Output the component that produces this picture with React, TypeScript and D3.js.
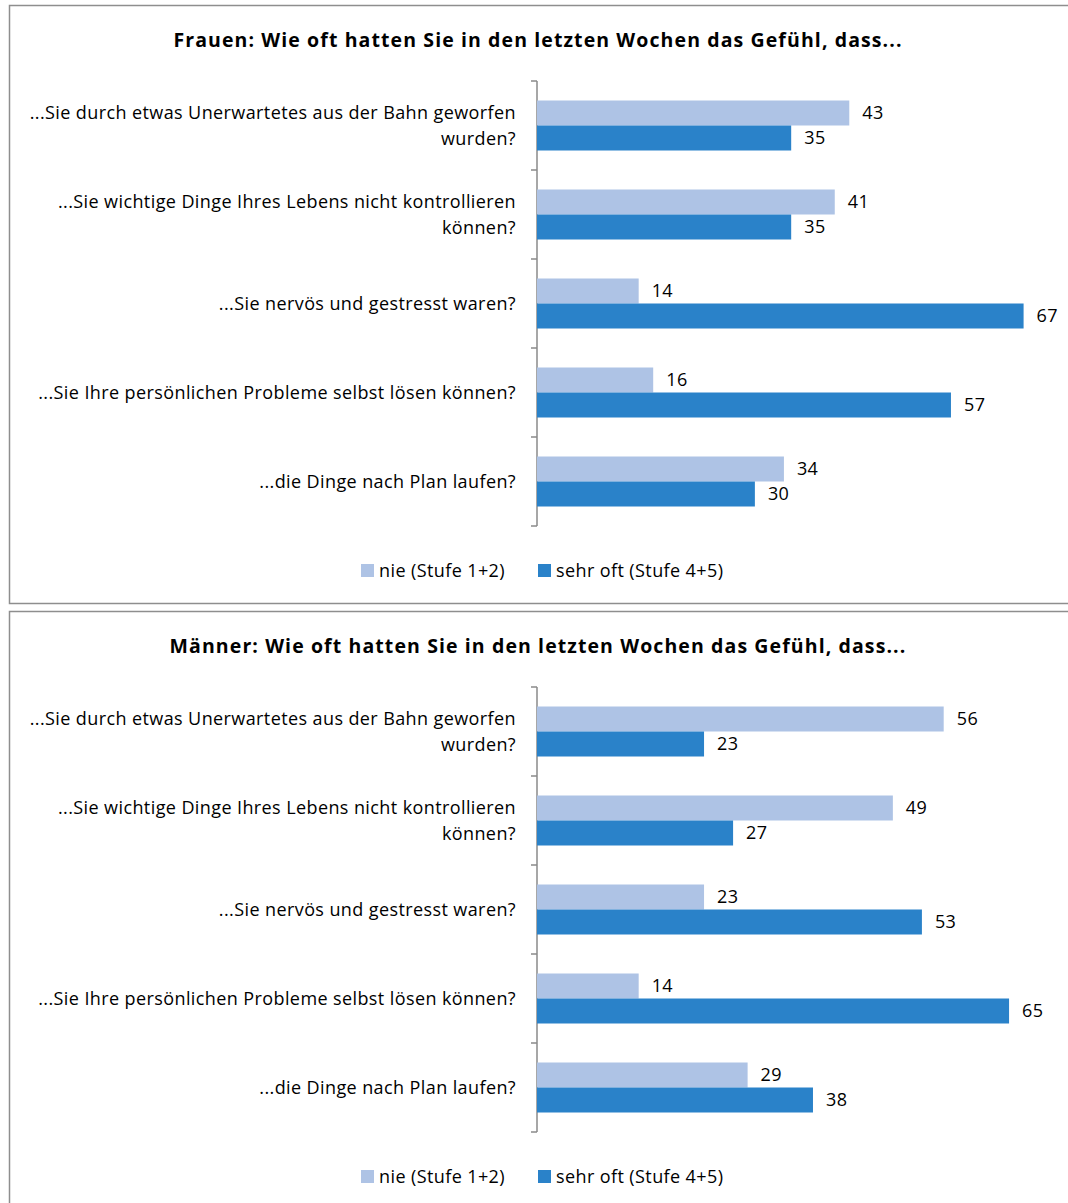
import React from "react";
import * as d3 from "d3";

const categories: string[][] = [
  ["...Sie durch etwas Unerwartetes aus der Bahn geworfen", "wurden?"],
  ["...Sie wichtige Dinge Ihres Lebens nicht kontrollieren", "können?"],
  ["...Sie nervös und gestresst waren?"],
  ["...Sie Ihre persönlichen Probleme selbst lösen können?"],
  ["...die Dinge nach Plan laufen?"],
];
const seriesNames = ["nie (Stufe 1+2)", "sehr oft (Stufe 4+5)"];
const frauenNie = [43, 41, 14, 16, 34];
const frauenOft = [35, 35, 67, 57, 30];
const maennerNie = [56, 49, 23, 14, 29];
const maennerOft = [23, 27, 53, 65, 38];
const titles = [
  "Frauen: Wie oft hatten Sie in den letzten Wochen das Gefühl, dass...",
  "Männer: Wie oft hatten Sie in den letzten Wochen das Gefühl, dass...",
];

const COLORS = ["#AEC3E5", "#2A82C9"];
const FONT = "'Open Sans', Lato, sans-serif";
const FS = 18;
const LS = 0.4;

function Panel({ top, title, nie, oft }: { top: number; title: string; nie: number[]; oft: number[] }) {
  const axisX = 537;
  const axisTop = top + 76;
  const axisBottom = axisTop + 445;
  const x = d3.scaleLinear().domain([0, 80]).range([axisX, axisX + 581]);
  const y = d3
    .scaleBand<number>()
    .domain(d3.range(categories.length))
    .range([axisTop, axisBottom]);
  const barH = 25;
  const series = [nie, oft];
  const ticks = d3.range(categories.length + 1).map((i) => axisTop + i * y.step());
  return (
    <g>
      <rect x={9.5} y={top + 0.5} width={1080} height={top === 5 ? 598 : 620} fill="white" stroke="#8E8E8E" strokeWidth={1.5} />
      <text x={538} y={top + 42} textAnchor="middle" fontFamily={FONT} fontWeight="bold" fontSize={19.5} letterSpacing={1.1} fill="#000">
        {title}
      </text>
      <line x1={axisX} x2={axisX} y1={axisTop} y2={axisBottom} stroke="#8A8A8A" strokeWidth={1.5} />
      {ticks.map((t, i) => (
        <line key={i} x1={axisX - 6} x2={axisX} y1={t} y2={t} stroke="#8A8A8A" strokeWidth={1.5} />
      ))}
      {categories.map((lines, i) => {
        const c = (y(i) as number) + y.bandwidth() / 2;
        return (
          <g key={i}>
            {lines.map((ln, j) => (
              <text
                key={j}
                x={516}
                y={c + 6 + (j - (lines.length - 1) / 2) * 26}
                textAnchor="end"
                fontFamily={FONT}
                fontSize={FS}
                letterSpacing={LS}
                fill="#000"
              >
                {ln}
              </text>
            ))}
            {series.map((s, k) => {
              const by = c - barH + k * barH;
              return (
                <g key={k}>
                  <rect x={x(0)} y={by} width={x(s[i]) - x(0)} height={barH} fill={COLORS[k]} />
                  <text x={x(s[i]) + 13} y={by + barH / 2 + 6} fontFamily={FONT} fontSize={FS} letterSpacing={LS} fill="#000">
                    {s[i]}
                  </text>
                </g>
              );
            })}
          </g>
        );
      })}
      {seriesNames.map((n, k) => {
        const lx = k === 0 ? 361 : 538;
        return (
          <g key={k}>
            <rect x={lx} y={top + 559} width={13} height={13} fill={COLORS[k]} />
            <text x={lx + 18} y={top + 572} fontFamily={FONT} fontSize={FS} letterSpacing={LS} fill="#000">
              {n}
            </text>
          </g>
        );
      })}
    </g>
  );
}

export default function App() {
  return (
    <svg
      width={1068}
      height={1203}
      style={{ position: "absolute", left: 0, top: 0, background: "white" }}
    >
      <rect x={0} y={0} width={1068} height={1203} fill="white" />
      <Panel top={5} title={titles[0]} nie={frauenNie} oft={frauenOft} />
      <Panel top={611} title={titles[1]} nie={maennerNie} oft={maennerOft} />
    </svg>
  );
}
